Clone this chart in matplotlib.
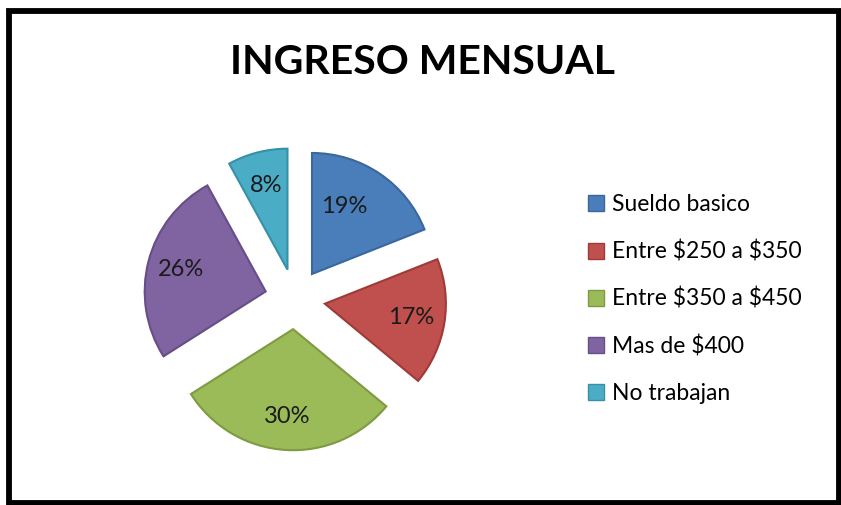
import matplotlib
matplotlib.use('Agg')
import matplotlib.pyplot as plt
from matplotlib.patches import Rectangle, Patch

# data
categorias = ['Sueldo basico', r'Entre \$250 a \$350', r'Entre \$350 a \$450',
              r'Mas de \$400', 'No trabajan']
porcentajes = [19, 17, 30, 26, 8]
colores = ['#4A7EBB', '#C0504D', '#9BBB59', '#8064A2', '#4BACC6']
bordes = ['#3A679C', '#9E3A38', '#7E9B42', '#664E86', '#3790A8']

W, H = 841, 505
fig = plt.figure(figsize=(W / 100, H / 100), dpi=100)
fig.patch.set_facecolor('white')

# marco negro
fig.patches.append(Rectangle((8.5 / W, 2.5 / H), (W - 11) / W, (H - 13.5) / H,
                             transform=fig.transFigure, fill=False,
                             edgecolor='black', linewidth=4.2, zorder=10))

fig.text(423 / W, 1 - 62 / H, 'INGRESO MENSUAL', ha='center', va='center',
         fontsize=29.5, fontweight='bold', family='Lato')

# pie: centre ~ (295, 299) px, radius ~121 px
r = 121
half = 1.5 * r
cx, cy = 295, H - 299
ax = fig.add_axes([(cx - half) / W, (cy - half) / H, 2 * half / W, 2 * half / H])
wedges, texts, autotexts = ax.pie(
    porcentajes, colors=colores, startangle=90, counterclock=False,
    explode=[0.25] * len(porcentajes), autopct='%d%%', pctdistance=0.72,
    wedgeprops=dict(linewidth=1.5),
    textprops=dict(fontsize=17, color='#1a1a1a', family='Lato'))
for w, b in zip(wedges, bordes):
    w.set_edgecolor(b)
# la etiqueta azul queda algo mas cerca del borde izquierdo en el original
x0, y0 = autotexts[0].get_position()
autotexts[0].set_position((x0 - 0.14, y0 - 0.04))
ax.set_xlim(-1.5, 1.5)
ax.set_ylim(-1.5, 1.5)
ax.set_aspect('equal')
ax.axis('off')

handles = [Patch(facecolor=c, edgecolor=b, linewidth=1) for c, b in zip(colores, bordes)]
fig.legend(handles, categorias, loc='center left', bbox_to_anchor=(588 / W, 1 - 299 / H),
           frameon=False, prop=dict(family='Lato', size=16.5),
           handlelength=0.7, handleheight=0.7, handletextpad=0.35,
           labelspacing=1.11, borderaxespad=0, borderpad=0)

fig.savefig('out.png', dpi=100)
